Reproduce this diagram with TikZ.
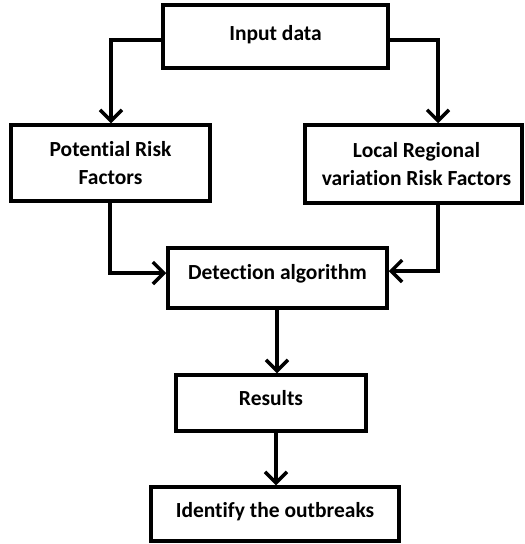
\documentclass[tikz,border=0pt]{standalone}
\usepackage{fontspec}
\setmainfont{Carlito}[Ligatures={NoCommon}]
\usetikzlibrary{arrows.meta}
\begin{document}
\begin{tikzpicture}[x=1pt,y=-1pt,
  box/.style={draw=black,line width=3.5pt,fill=white,inner sep=0pt,align=center,font=\bfseries\fontsize{21.5}{28}\selectfont},
  conn/.style={line width=3.5pt,line join=miter,-{Straight Barb[length=11pt,width=22pt,line width=3.5pt]}}]
\useasboundingbox (0,0) rectangle (525,544);
\node[box,minimum width=225pt,minimum height=63pt,text height=15pt,text depth=8pt] (in) at (275.5,36.5) {Input data};
\node[box,minimum width=199pt,minimum height=76pt] (prf) at (110.5,163) {Potential Risk\\Factors};
\node[box,minimum width=217pt,minimum height=78pt] (lrv) at (413.5,164) {\hspace*{6pt}Local Regional\\\hspace*{6pt}variation Risk Factors};
\node[box,minimum width=219pt,minimum height=60pt,text height=10pt,text depth=8pt] (det) at (277.5,278) {Detection algorithm};
\node[box,minimum width=190pt,minimum height=56pt,text height=13pt,text depth=8pt] (res) at (271,403) {Results};
\node[box,minimum width=248pt,minimum height=54pt,text height=15pt,text depth=8pt] (idf) at (275,514) {Identify the outbreaks};
\draw[conn] ([yshift=-3.5pt]in.west) -| (prf.north -| 111,0);
\draw[conn] ([yshift=-3.5pt]in.east) -| (lrv.north -| 438,0);
\draw[conn] (prf.south -| 110,0) |- ([yshift=5pt]det.west);
\draw[conn] (lrv.south -| 438,0) |- ([yshift=7pt]det.east);
\draw[conn] (det.south -| 277,0) -- (res.north -| 277,0);
\draw[conn] (res.south -| 276,0) -- (idf.north -| 276,0);
\end{tikzpicture}
\end{document}
